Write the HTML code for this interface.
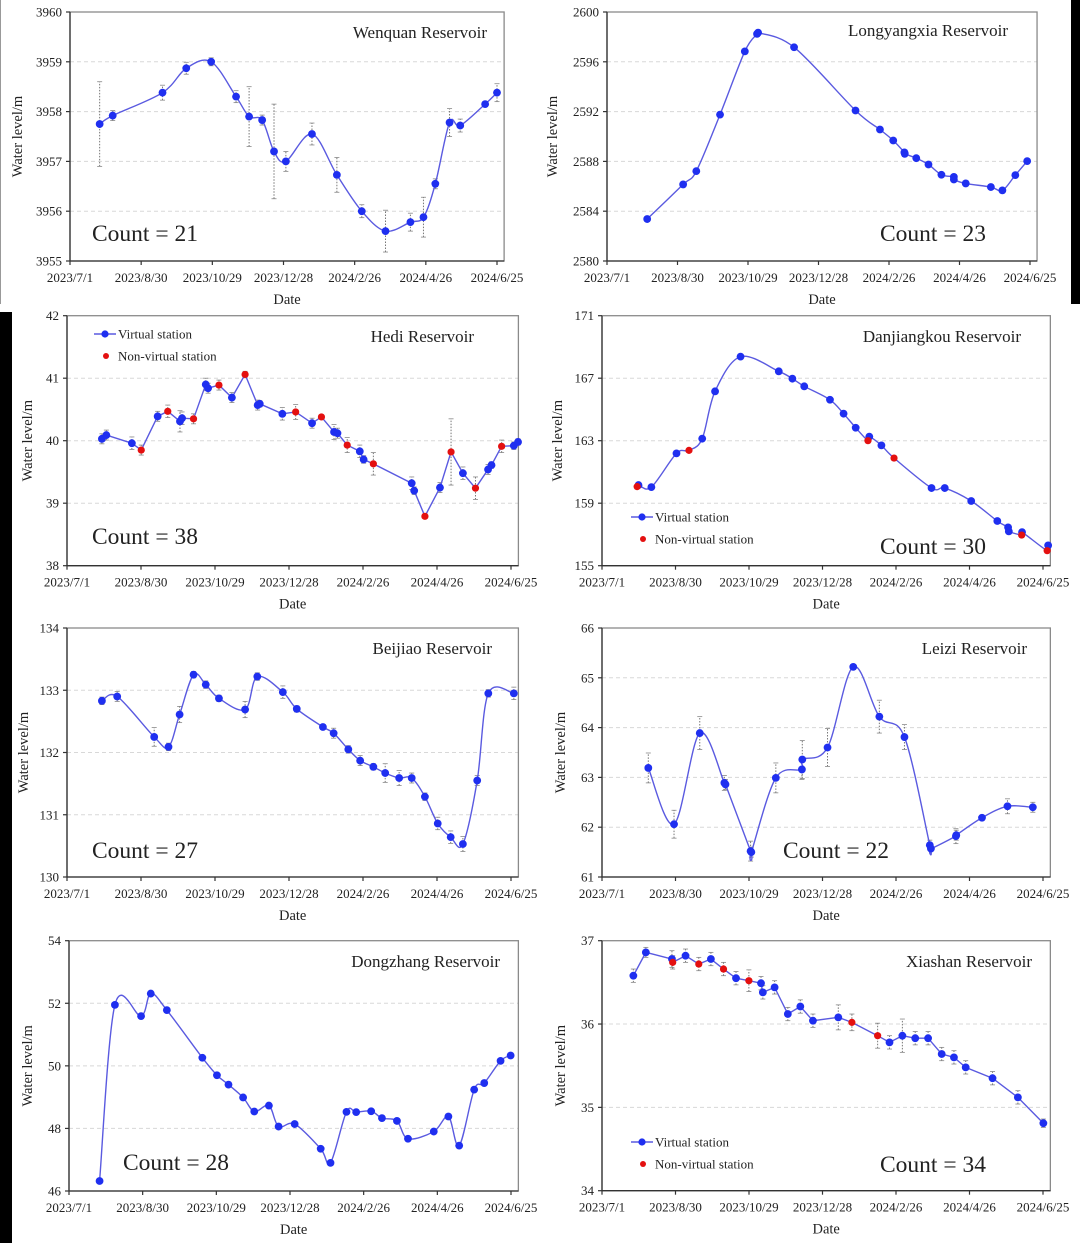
<!DOCTYPE html>
<html><head><meta charset="utf-8"><style>
html,body{margin:0;padding:0;background:#fff;}
body{width:1080px;height:1243px;position:relative;overflow:hidden;}
svg{position:absolute;left:0;top:0;}
text{font-family:"Liberation Serif",serif;fill:#222;}
</style></head><body>
<svg id="fig" width="1080" height="1243" viewBox="0 0 1080 1243" xmlns="http://www.w3.org/2000/svg">
<rect x="0" y="0" width="1080" height="1243" fill="#fff"/>
<rect x="0" y="312" width="12" height="931" fill="#000"/>
<rect x="1071" y="0" width="9" height="304" fill="#000"/>
<line x1="0.5" y1="0" x2="0.5" y2="304" stroke="#999" stroke-width="1"/>
</svg>
<script>
const tickDates = ["2023/7/1","2023/8/30","2023/10/29","2023/12/28","2024/2/26","2024/4/26","2024/6/25"];
const tickDays = [0,60,120,180,240,300,360];
const countValues = [21,23,38,30,27,22,28,34];

const wenquanDays = [25,36,78,98,119,140,151,162,172,182,204,225,246,266,287,298,308,320,329,350,360];
const wenquanLevels = [3957.75,3957.92,3958.38,3958.87,3959.0,3958.3,3957.9,3957.83,3957.2,3957.0,3957.55,3956.73,3956.0,3955.6,3955.78,3955.88,3956.55,3957.78,3957.72,3958.15,3958.38];
const wenquanErr = [0.85,0.1,0.15,0.12,0.08,0.12,0.6,0.1,0.95,0.2,0.22,0.35,0.13,0.42,0.18,0.4,0.1,0.28,0.13,0.05,0.18];

const longyangxiaDays = [34.2,64.8,76.0,96.2,117.3,127.7,128.6,159.2,211.5,232.3,243.6,253.1,253.4,263.2,273.6,284.6,295.2,295.2,305.3,326.7,336.5,347.5,357.6];
const longyangxiaLevels = [2583.37,2586.15,2587.22,2591.76,2596.84,2598.24,2598.34,2597.17,2592.09,2590.56,2589.68,2588.72,2588.61,2588.26,2587.75,2586.93,2586.76,2586.55,2586.23,2585.94,2585.67,2586.90,2588.02];

const hediDays = [28.3,31.9,52.6,60.2,73.5,81.7,91.6,93.3,102.6,112.5,114.4,123.2,133.7,144.4,154.6,156.3,174.6,185.4,198.7,206.3,216.5,219.3,227.2,237.4,240.5,248.4,279.5,281.5,290.2,302.4,311.4,321.0,331.2,341.4,344.2,352.4,362.3,365.7];
const hediLevels = [40.03,40.09,39.96,39.85,40.39,40.47,40.31,40.36,40.35,40.90,40.84,40.89,40.69,41.06,40.57,40.59,40.43,40.46,40.28,40.38,40.14,40.12,39.93,39.83,39.70,39.63,39.32,39.20,38.79,39.25,39.82,39.48,39.24,39.54,39.61,39.91,39.92,39.98];
const hediErr = [0.08,0.08,0.1,0.08,0.08,0.1,0.17,0.1,0.08,0.1,0.08,0.08,0.08,0.05,0.08,0.05,0.1,0.12,0.08,0.03,0.12,0.08,0.12,0.1,0.06,0.18,0.1,0.06,0.03,0.08,0.53,0.1,0.18,0.08,0.05,0.1,0.06,0.05];
const hediType = ["v","v","v","n","v","n","v","v","n","v","v","n","v","n","v","v","v","n","v","n","v","v","n","v","v","n","v","v","n","v","n","v","n","v","v","n","v","v"];

const danjiangkouDays = [29.8,28.7,40.3,60.8,71.0,81.8,92.3,113.1,144.3,155.4,165.1,186.1,197.2,207.1,218.2,217.1,228.1,238.4,269.0,279.8,301.4,322.7,331.5,332.1,342.9,342.6,364.2,363.4];
const danjiangkouLevels = [160.16,160.06,160.03,162.19,162.38,163.13,166.16,168.38,167.44,166.97,166.48,165.62,164.73,163.83,163.26,163.00,162.70,161.89,159.97,159.97,159.14,157.86,157.45,157.20,157.15,156.96,156.30,155.96];
const danjiangkouType = ["v","n","v","v","n","v","v","v","v","v","v","v","v","v","v","n","v","n","v","v","v","v","v","v","v","n","v","n"];

const beijiaoDays = [28.3,40.7,70.7,82.3,91.3,102.6,112.5,123.2,144.4,154.3,175.0,186.3,207.5,216.2,228.1,237.7,248.4,258.0,269.3,279.5,290.2,300.6,311.1,321.0,332.6,341.6,362.3];
const beijiaoLevels = [132.83,132.90,132.25,132.09,132.61,133.25,133.09,132.87,132.69,133.22,132.97,132.70,132.41,132.31,132.05,131.87,131.77,131.67,131.59,131.59,131.29,130.86,130.64,130.53,131.55,132.95,132.95];
const beijiaoErr = [0.06,0.08,0.15,0.06,0.13,0.05,0.06,0.05,0.13,0.06,0.1,0.05,0.04,0.08,0.06,0.08,0.05,0.15,0.12,0.08,0.06,0.1,0.1,0.12,0.08,0.06,0.1];

const leiziDays = [37.8,58.8,79.8,99.9,100.8,121.3,121.9,141.9,163.2,163.5,184.1,205.1,226.4,246.9,267.6,268.5,288.9,289.2,310.2,331.0,351.7];
const leiziLevels = [63.19,62.06,63.89,62.89,62.86,61.52,61.50,62.99,63.16,63.36,63.60,65.22,64.22,63.81,61.64,61.57,61.82,61.84,62.19,62.42,62.40];
const leiziErr = [0.3,0.28,0.33,0.15,0.1,0.2,0.1,0.3,0.2,0.38,0.38,0.05,0.33,0.25,0.1,0.05,0.15,0.1,0.05,0.15,0.1];

const dongzhangDays = [24.9,37.4,58.7,66.6,79.7,108.6,120.5,129.9,141.8,150.9,162.8,170.7,183.8,205.0,213.0,226.0,233.9,246.1,254.9,267.1,276.1,297.1,309.0,317.8,330.0,338.2,351.5,359.7];
const dongzhangLevels = [46.32,51.95,51.59,52.31,51.78,50.26,49.70,49.40,48.99,48.54,48.73,48.06,48.14,47.35,46.90,48.53,48.52,48.55,48.33,48.24,47.67,47.90,48.38,47.45,49.24,49.45,50.16,50.33];

const xiashanDays = [25.6,35.8,57.1,57.7,68.2,79.0,88.9,99.2,109.4,119.9,129.8,131.3,140.9,151.7,161.9,172.2,192.9,204.0,225.0,234.7,245.2,255.7,266.2,277.3,287.3,296.9,318.8,339.5,360.3];
const xiashanLevels = [36.58,36.86,36.78,36.74,36.82,36.72,36.78,36.66,36.55,36.52,36.49,36.38,36.44,36.12,36.21,36.04,36.08,36.02,35.86,35.78,35.86,35.83,35.83,35.64,35.60,35.48,35.35,35.12,34.81];
const xiashanErr = [0.08,0.06,0.1,0.08,0.08,0.08,0.08,0.08,0.08,0.13,0.08,0.08,0.08,0.08,0.08,0.08,0.15,0.1,0.15,0.08,0.2,0.08,0.08,0.08,0.08,0.08,0.08,0.08,0.05];
const xiashanType = ["v","v","v","n","v","n","v","n","v","n","v","v","v","v","v","v","v","n","n","v","v","v","v","v","v","v","v","v","v"];

const NS = "http://www.w3.org/2000/svg";
const svg = document.getElementById('fig');
function mk(tag, attrs, parent){ const e=document.createElementNS(NS,tag); for(const k in attrs) e.setAttribute(k,attrs[k]); (parent||svg).appendChild(e); return e; }

function smoothPath(pts){
  if(pts.length<2) return "";
  let d = "M"+pts[0][0]+","+pts[0][1];
  for(let i=0;i<pts.length-1;i++){
    const p0=pts[i-1]||pts[i], p1=pts[i], p2=pts[i+1], p3=pts[i+2]||p2;
    const t=1/6;
    const c1=[p1[0]+(p2[0]-p0[0])*t, p1[1]+(p2[1]-p0[1])*t];
    const c2=[p2[0]-(p3[0]-p1[0])*t, p2[1]-(p3[1]-p1[1])*t];
    d+=" C"+c1[0]+","+c1[1]+" "+c2[0]+","+c2[1]+" "+p2[0]+","+p2[1];
  }
  return d;
}

function panel(cfg){
  const g = mk('g',{});
  
  
  const xs = d => cfg.x0 + (cfg.x360-cfg.x0)*d/360;
  const ys = v => cfg.bot - (cfg.bot-cfg.top)*(v-cfg.ymin)/(cfg.ymax-cfg.ymin);
  const right = xs(366);
  for(let v=cfg.ymin+cfg.step; v<cfg.ymax-1e-9; v+=cfg.step){
    const gl = mk('line',{x1:cfg.x0,x2:right,y1:ys(v),y2:ys(v),stroke:'#d8d8d8','stroke-width':1,'stroke-dasharray':'4,3'},g);
    
    
  }
  const fr = mk('rect',{x:cfg.x0,y:cfg.top,width:right-cfg.x0,height:cfg.bot-cfg.top,fill:'none',stroke:'#8a8a8a','stroke-width':1.3},g);
  
  
  mk('line',{x1:cfg.x0,x2:cfg.x0,y1:cfg.top,y2:cfg.bot,stroke:'#333','stroke-width':1.3},g);
  mk('line',{x1:cfg.x0,x2:right,y1:cfg.bot,y2:cfg.bot,stroke:'#333','stroke-width':1.3},g);
  for(let v=cfg.ymin; v<=cfg.ymax+1e-9; v+=cfg.step){
    mk('line',{x1:cfg.x0-4,x2:cfg.x0,y1:ys(v),y2:ys(v),stroke:'#333','stroke-width':1.2},g);
    const t = mk('text',{x:cfg.x0-8,y:ys(v)+4.5,'text-anchor':'end','font-size':13},g);
    
    
    t.textContent = String(Math.round(v));
  }
  tickDays.forEach((d,i)=>{
    mk('line',{x1:xs(d),x2:xs(d),y1:cfg.bot,y2:cfg.bot+4,stroke:'#333','stroke-width':1.2},g);
    const t = mk('text',{x:xs(d),y:cfg.bot+21,'text-anchor':'middle','font-size':13},g);
    
    
    t.textContent = tickDates[i];
  });
  const xt = mk('text',{x:(cfg.x0+right)/2,y:cfg.bot+43,'text-anchor':'middle','font-size':14.5},g);
  
  
  xt.textContent='Date';
  const yc=(cfg.top+cfg.bot)/2;
  const yt = mk('text',{x:cfg.ytx,y:yc,'text-anchor':'middle','font-size':14.5,transform:'rotate(-90 '+cfg.ytx+' '+yc+')'},g);
  
  
  yt.textContent='Water level/m';
  const tt = mk('text',{x:cfg.titleX,y:cfg.titleY,'text-anchor':'end','font-size':17},g);
  
  
  tt.textContent=cfg.title;
  const ct = mk('text',{x:cfg.countX,y:cfg.countY,'font-size':23.5},g);
  
  
  ct.textContent='Count = '+cfg.count;
  if(cfg.err){
    cfg.days.forEach((d,i)=>{
      const e=cfg.err[i]; if(!e) return;
      const x=xs(d), y1=ys(cfg.levels[i]-e), y2=ys(cfg.levels[i]+e);
      const eb = mk('line',{x1:x,x2:x,y1:y1,y2:y2,stroke:'#777','stroke-width':1,'stroke-dasharray':'1.5,1.5'},g);
      
      
      mk('line',{x1:x-2.5,x2:x+2.5,y1:y1,y2:y1,stroke:'#888','stroke-width':0.8},g);
      mk('line',{x1:x-2.5,x2:x+2.5,y1:y2,y2:y2,stroke:'#888','stroke-width':0.8},g);
    });
  }
  const pts = cfg.days.map((d,i)=>[xs(d),ys(cfg.levels[i])]);
  const sorted = pts.map((p,i)=>[p,i]).sort((a,b)=>a[0][0]-b[0][0]||a[1]-b[1]).map(a=>a[0]);
  const d = cfg.smooth ? smoothPath(sorted) : "M"+sorted.map(p=>p[0]+","+p[1]).join(" L");
  const ln = mk('path',{d:d,fill:'none',stroke:'#5a5ae0','stroke-width':1.4},g);
  
  
  pts.forEach((p,i)=>{
    const nv = cfg.type && cfg.type[i]==='n';
    const c = mk('circle',{cx:p[0],cy:p[1],r:nv?3.6:3.9,fill:nv?'#e41010':'#1f2ff0'},g);
    
    
  });
  if(cfg.legend){
    const lx=cfg.legend[0], ly=cfg.legend[1];
    const lg = mk('g',{},g);
    
    
    mk('line',{x1:lx,x2:lx+22,y1:ly,y2:ly,stroke:'#5a5ae0','stroke-width':1.4},lg);
    mk('circle',{cx:lx+11,cy:ly,r:3.6,fill:'#1f2ff0'},lg);
    const t1=mk('text',{x:lx+24,y:ly+4.5,'font-size':13},lg);
    
    
    t1.textContent='Virtual station';
    mk('circle',{cx:lx+12,cy:ly+22,r:3,fill:'#e41010'},lg);
    const t2=mk('text',{x:lx+24,y:ly+26.5,'font-size':13},lg);
    
    
    t2.textContent='Non-virtual station';
  }
}

panel({name:'wenquan',title:'Wenquan Reservoir',count:countValues[0],x0:70,x360:497,top:12,bot:261,ymin:3955,ymax:3960,step:1,ytx:22,titleX:487,titleY:38,countX:92,countY:241,days:wenquanDays,levels:wenquanLevels,err:wenquanErr,smooth:true});
panel({name:'longyangxia',title:'Longyangxia Reservoir',count:countValues[1],x0:607,x360:1030,top:12,bot:261,ymin:2580,ymax:2600,step:4,ytx:557,titleX:1008,titleY:36,countX:880,countY:241,days:longyangxiaDays,levels:longyangxiaLevels,smooth:true});
panel({name:'hedi',title:'Hedi Reservoir',count:countValues[2],x0:67,x360:511,top:315.7,bot:565.7,ymin:38,ymax:42,step:1,ytx:32,titleX:474,titleY:342,countX:92,countY:544,days:hediDays,levels:hediLevels,err:hediErr,type:hediType,smooth:false,legend:[94,334]});
panel({name:'danjiangkou',title:'Danjiangkou Reservoir',count:countValues[3],x0:602,x360:1043,top:315.7,bot:565.7,ymin:155,ymax:171,step:4,ytx:562,titleX:1021,titleY:342,countX:880,countY:554,days:danjiangkouDays,levels:danjiangkouLevels,type:danjiangkouType,smooth:true,legend:[631,517]});
panel({name:'beijiao',title:'Beijiao Reservoir',count:countValues[4],x0:67,x360:511,top:628,bot:877,ymin:130,ymax:134,step:1,ytx:28,titleX:492,titleY:654,countX:92,countY:858,days:beijiaoDays,levels:beijiaoLevels,err:beijiaoErr,smooth:true});
panel({name:'leizi',title:'Leizi Reservoir',count:countValues[5],x0:602,x360:1043,top:628,bot:877,ymin:61,ymax:66,step:1,ytx:565,titleX:1027,titleY:654,countX:783,countY:858,days:leiziDays,levels:leiziLevels,err:leiziErr,smooth:true});
panel({name:'dongzhang',title:'Dongzhang Reservoir',count:countValues[6],x0:69,x360:511,top:940.7,bot:1191,ymin:46,ymax:54,step:2,ytx:32,titleX:500,titleY:967,countX:123,countY:1170,days:dongzhangDays,levels:dongzhangLevels,smooth:true});
panel({name:'xiashan',title:'Xiashan Reservoir',count:countValues[7],x0:602,x360:1043,top:940.7,bot:1190.7,ymin:34,ymax:37,step:1,ytx:565,titleX:1032,titleY:967,countX:880,countY:1172,days:xiashanDays,levels:xiashanLevels,err:xiashanErr,type:xiashanType,smooth:false,legend:[631,1142]});
</script>
</body></html>
